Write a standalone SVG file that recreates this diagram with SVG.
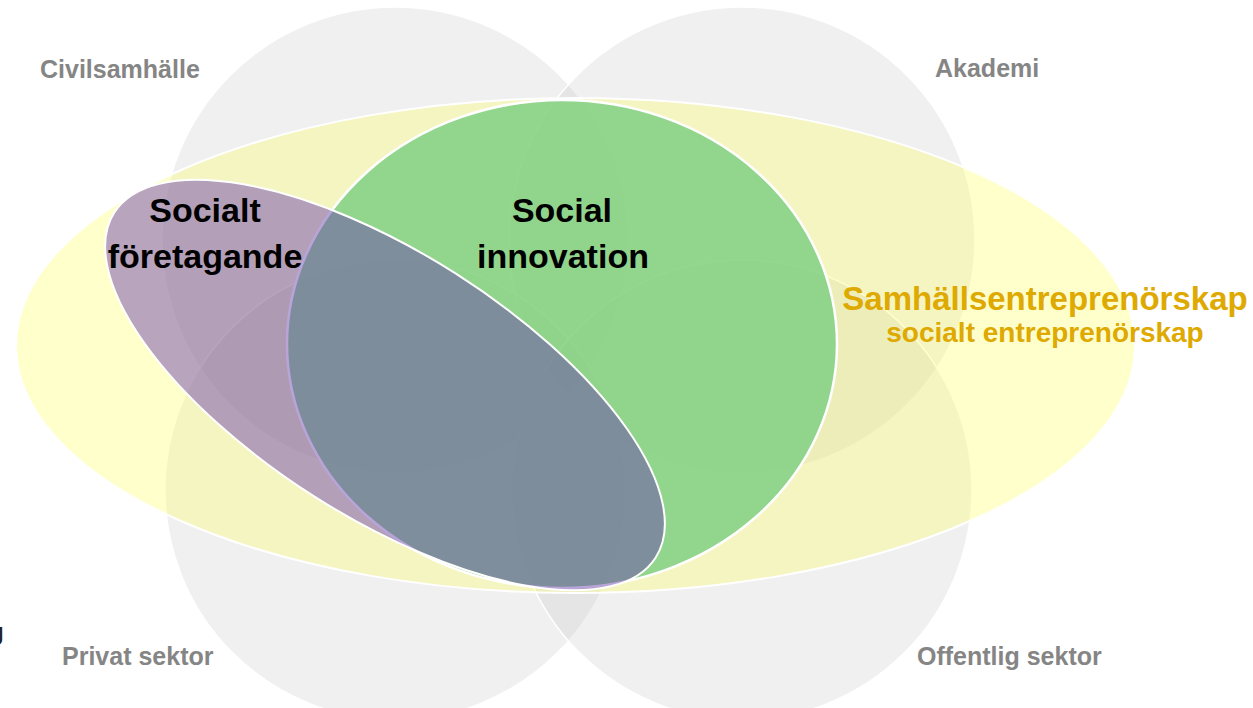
<svg xmlns="http://www.w3.org/2000/svg" width="1253" height="708" viewBox="0 0 1253 708">
  <style>
    .sector { fill: #c8c8c8; fill-opacity: 0.27; stroke: #ffffff; stroke-width: 1.5; }
    .yellow { fill: #ffff64; fill-opacity: 0.33; stroke: #ffffff; stroke-width: 2; }
    .green { fill: #80d085; fill-opacity: 0.85; stroke: #ffffff; stroke-width: 2.5; }
    .purple { fill: #6739ac; fill-opacity: 0.46; stroke: #ffffff; stroke-width: 2; }
    .lbl { font-family: "Liberation Sans", Arial, sans-serif; font-weight: bold; }
    .sec { font-size: 25px; fill: #858585; }
    .main { font-size: 34px; fill: #000000; text-anchor: middle; }
    .gold { fill: #dea900; text-anchor: middle; }
  </style>
  <rect x="0" y="0" width="1253" height="708" fill="#ffffff"/>

  <g id="civilsamhalle">
    <circle class="sector" cx="395" cy="240" r="233"/>
  </g>
  <g id="akademi">
    <circle class="sector" cx="742" cy="240" r="233"/>
  </g>
  <g id="privat-sektor">
    <circle class="sector" cx="395" cy="490" r="230"/>
  </g>
  <g id="offentlig-sektor">
    <circle class="sector" cx="742" cy="490" r="230"/>
  </g>

  <g id="samhallsentreprenorskap">
    <ellipse class="yellow" cx="575.5" cy="345.5" rx="559.5" ry="247.5"/>
  </g>

  <g id="social-innovation">
    <ellipse class="green" cx="562" cy="344" rx="275" ry="244"/>
  </g>

  <g id="socialt-foretagande">
    <ellipse class="purple" cx="385" cy="385" rx="321" ry="132" transform="rotate(32.5 385 385)"/>
  </g>

  <g id="connectors"></g>

  <g id="labels">
    <text class="lbl sec" x="40" y="78">Civilsamhälle</text>
    <text class="lbl sec" x="935" y="77">Akademi</text>
    <text class="lbl sec" x="62" y="665">Privat sektor</text>
    <text class="lbl sec" x="917" y="665">Offentlig sektor</text>

    <text class="lbl main" x="205" y="222">Socialt</text>
    <text class="lbl main" x="205" y="268">företagande</text>

    <text class="lbl main" x="562" y="222">Social</text>
    <text class="lbl main" x="563" y="268">innovation</text>

    <text class="lbl gold" x="1045" y="310" font-size="33">Samhällsentreprenörskap</text>
    <text class="lbl gold" x="1045" y="342" font-size="28">socialt entreprenörskap</text>

    <text x="-9" y="645" font-family="Liberation Sans, Arial, sans-serif" font-size="26" fill="#222222">J</text>
  </g>
</svg>
